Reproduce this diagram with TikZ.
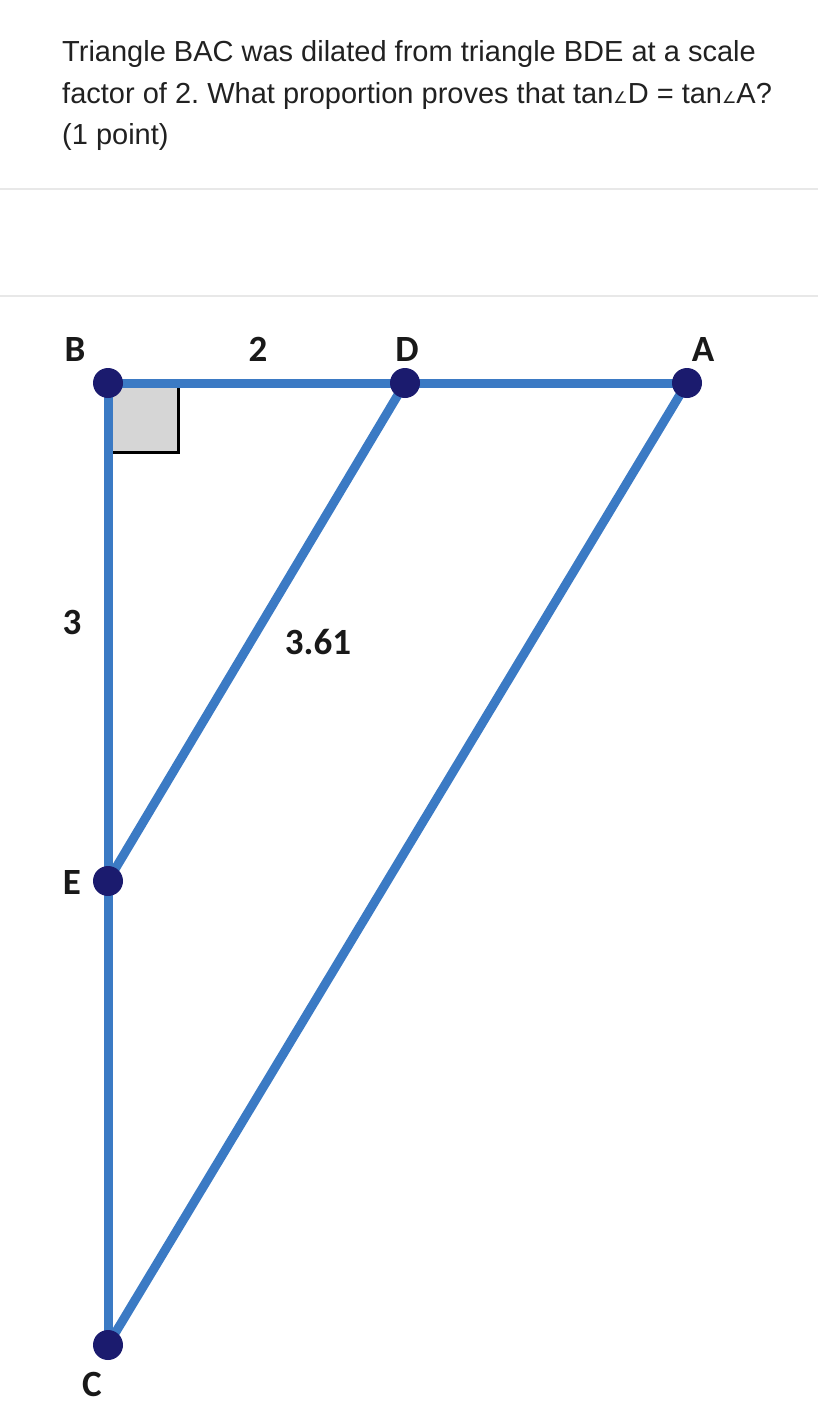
\documentclass[tikz,border=0pt]{standalone}
\usepackage{fontspec}
\setmainfont{Liberation Sans}
\newfontfamily\labelfont{Carlito}
\newfontfamily\symfont{DejaVu Sans}
\definecolor{segblue}{RGB}{59,122,196}
\definecolor{dotnavy}{RGB}{27,27,110}
\definecolor{rulegray}{RGB}{232,232,232}
\newcommand{\ang}{{\symfont\fontsize{16}{16}\selectfont ∠}}
\frenchspacing
\tikzset{
  seg/.style={line width=9pt, color=segblue},
  dot/.style={circle, fill=dotnavy, inner sep=0pt, minimum size=30pt},
  lbl/.style={font=\labelfont\bfseries\fontsize{37}{37}\selectfont, inner sep=0pt, text=black!90},
  qtext/.style={anchor=base west, inner sep=0pt, font=\fontsize{29}{29}\selectfont, text=black!87}
}
\begin{document}
\begin{tikzpicture}[x=1pt, y=-1pt]
  \useasboundingbox (0, 0) rectangle (818, 1403);

  %%%%% QUESTION %%%%%
  \node[qtext] (q1) at (62, 61) {Triangle BAC was dilated from triangle BDE at a scale};
  \node[qtext] (q2) at (62, 103) {factor of 2. What proportion proves that tan\ang D = tan\ang A?};
  \node[qtext] (q3) at (62, 144) {(1 point)};

  \draw[line width=2pt, color=rulegray] (0, 189) -- (818, 189);
  \draw[line width=2pt, color=rulegray] (0, 296) -- (818, 296);

  %%%%% FIGURE %%%%%
  \coordinate (B) at (108, 383);
  \coordinate (D) at (405, 383);
  \coordinate (A) at (687, 383);
  \coordinate (E) at (108, 881);
  \coordinate (C) at (108, 1345);

  % right angle mark
  \fill[color=black!16] (B) rectangle (178, 452);
  \draw[line width=3pt] (178, 383) -- (178, 452) -- (108, 452);

  \draw[seg] (B) -- (A);
  \draw[seg] (B) -- (C);
  \draw[seg] (D) -- (E);
  \draw[seg] (A) -- (C);

  \node[dot] (dB) at (B) {};
  \node[dot] (dD) at (D) {};
  \node[dot] (dA) at (A) {};
  \node[dot] (dE) at (E) {};
  \node[dot] (dC) at (C) {};

  \node[lbl] (lB) at (75, 349) {B};
  \node[lbl] (lD) at (407, 349) {D};
  \node[lbl] (lA) at (703, 349) {A};
  \node[lbl] (lE) at (72, 882) {E};
  \node[lbl] (lC) at (92, 1384) {C};
  \node[lbl] (len2) at (258, 349) {2};
  \node[lbl] (len3) at (72, 622) {3};
  \node[lbl] (len361) at (318, 642) {3.61};
\end{tikzpicture}
\end{document}
